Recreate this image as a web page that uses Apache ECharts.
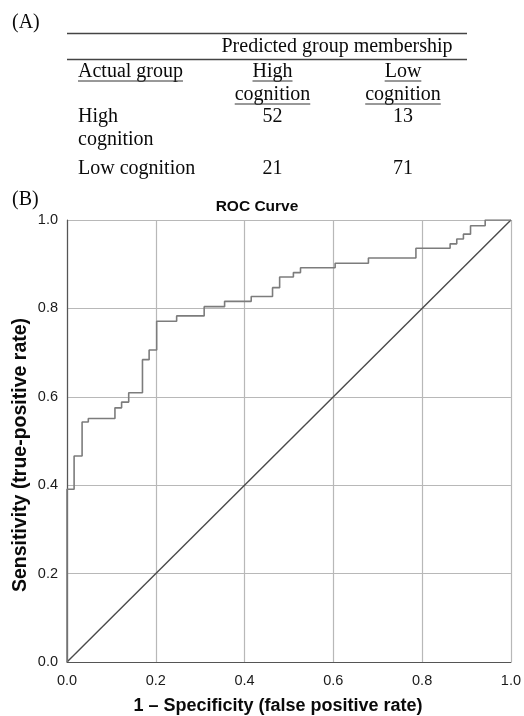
<!DOCTYPE html>
<html><head><meta charset="utf-8">
<script src="https://cdn.jsdelivr.net/npm/echarts/dist/echarts.min.js"></script>
<style>html,body{margin:0;padding:0;background:#fff}#c{width:524px;height:716px}</style>
</head><body><div id="c"></div>
<script>
// ---- Data ----
const xTickValues = [0, 0.2, 0.4, 0.6, 0.8, 1.0];
const yTickValues = [0, 0.2, 0.4, 0.6, 0.8, 1.0];
// ROC operating points (1 - specificity, sensitivity)
const fpr = [0, 0, 0.016, 0.034, 0.048, 0.108, 0.123, 0.139, 0.170, 0.185, 0.202, 0.247, 0.309, 0.355, 0.415, 0.463, 0.479, 0.510, 0.526, 0.604, 0.679, 0.786, 0.863, 0.878, 0.893, 0.909, 0.942, 1.0];
const tpr = [0, 0.391, 0.466, 0.543, 0.551, 0.575, 0.588, 0.609, 0.684, 0.706, 0.771, 0.783, 0.804, 0.816, 0.827, 0.847, 0.871, 0.881, 0.892, 0.902, 0.914, 0.936, 0.946, 0.957, 0.968, 0.987, 1.0, 1.0];
const refX = [0, 1];
const refY = [0, 1];
// Classification table
const actualGroups = [['High', 'cognition'], ['Low cognition']];
const predictedHigh = [52, 21];
const predictedLow = [13, 71];
const headerPredicted = 'Predicted group membership';
const headerActual = 'Actual group';
const colHigh = ['High', 'cognition'];
const colLow = ['Low', 'cognition'];
const panelA = '(A)', panelB = '(B)';
const chartTitle = 'ROC Curve';
const xTitle = '1 \u2013 Specificity (false positive rate)';
const yTitle = 'Sensitivity (true-positive rate)';

// ---- Rendering ----
const SERIF = "'Liberation Serif','Times New Roman',serif";
const SANS = "'Liberation Sans',Arial,sans-serif";
const serifFont = '20px ' + SERIF;
const mctx = document.createElement('canvas').getContext('2d');
function tw(t, font) { mctx.font = font; return mctx.measureText(t).width; }

const g = [];
function txt(t, x, y, align, font, extra) {
  g.push(Object.assign({ type: 'text', x: x, y: y, silent: true,
    style: { text: t, font: font || serifFont, fill: '#0a0a0a', align: align || 'left', verticalAlign: 'middle', textAlign: align || 'left', textVerticalAlign: 'middle' } }, extra || {}));
}
function line(x1, y1, x2, y2, w, c) {
  g.push({ type: 'line', silent: true, shape: { x1: x1, y1: y1, x2: x2, y2: y2 }, style: { stroke: c || '#333', lineWidth: w || 1 } });
}
function underlined(t, x, y, align, uy) {
  txt(t, x, y, align);
  const w = tw(t, serifFont);
  const x0 = align === 'center' ? x - w / 2 : x;
  line(x0, uy, x0 + w, uy, 1, '#333');
}

// Table (A)
txt(panelA, 12, 23);
line(67, 33.5, 467, 33.5, 1.5, '#444');
txt(headerPredicted, 337, 47, 'center');
line(67, 59.5, 467, 59.5, 1.5, '#444');
const cHigh = 272.5, cLow = 403, xLeft = 78;
underlined(headerActual, xLeft, 72, 'left', 81);
underlined(colHigh[0], cHigh, 72, 'center', 81);
underlined(colHigh[1], cHigh, 95, 'center', 104);
underlined(colLow[0], cLow, 72, 'center', 81);
underlined(colLow[1], cLow, 95, 'center', 104);
const rowY = [117, 169];
actualGroups.forEach((lines, i) => {
  lines.forEach((l, j) => txt(l, xLeft, rowY[i] + j * 23));
  txt(String(predictedHigh[i]), cHigh, rowY[i], 'center');
  txt(String(predictedLow[i]), cLow, rowY[i], 'center');
});
// Panel B labels
txt(panelB, 12, 200);
txt(chartTitle, 257, 207, 'center', 'bold 15.5px ' + SANS);
txt(xTitle, 278, 706, 'center', 'bold 18px ' + SANS);
txt(yTitle, 21, 455, 'center', 'bold 19.5px ' + SANS, { rotation: Math.PI / 2 });

const chart = echarts.init(document.getElementById('c'), null, { renderer: 'canvas' });
const axisCommon = {
  type: 'value', min: 0, max: 1, interval: 0.2,
  axisLine: { show: true, lineStyle: { color: '#555', width: 1.2 } },
  axisTick: { show: false },
  splitLine: { show: true, lineStyle: { color: '#b8b8b8', width: 1.2 } },
  axisLabel: { color: '#1a1a1a', fontSize: 14.5, fontFamily: SANS, formatter: v => v.toFixed(1) }
};
chart.setOption({
  animation: false,
  backgroundColor: '#fff',
  grid: { left: 67, right: 12, top: 220, bottom: 54 },
  xAxis: Object.assign({}, axisCommon, { axisLabel: Object.assign({}, axisCommon.axisLabel, { margin: 11 }) }),
  yAxis: Object.assign({}, axisCommon, { axisLabel: Object.assign({}, axisCommon.axisLabel, { margin: 9 }) }),
  series: [
    { type: 'line', data: refX.map((x, i) => [x, refY[i]]), showSymbol: false, lineStyle: { color: '#4a4a4a', width: 1.4 }, z: 3 },
    { type: 'line', step: 'end', data: fpr.map((x, i) => [x, tpr[i]]), showSymbol: false, lineStyle: { color: '#7c7c7c', width: 1.6 }, z: 4 }
  ],
  graphic: g
});
</script>
</body></html>
